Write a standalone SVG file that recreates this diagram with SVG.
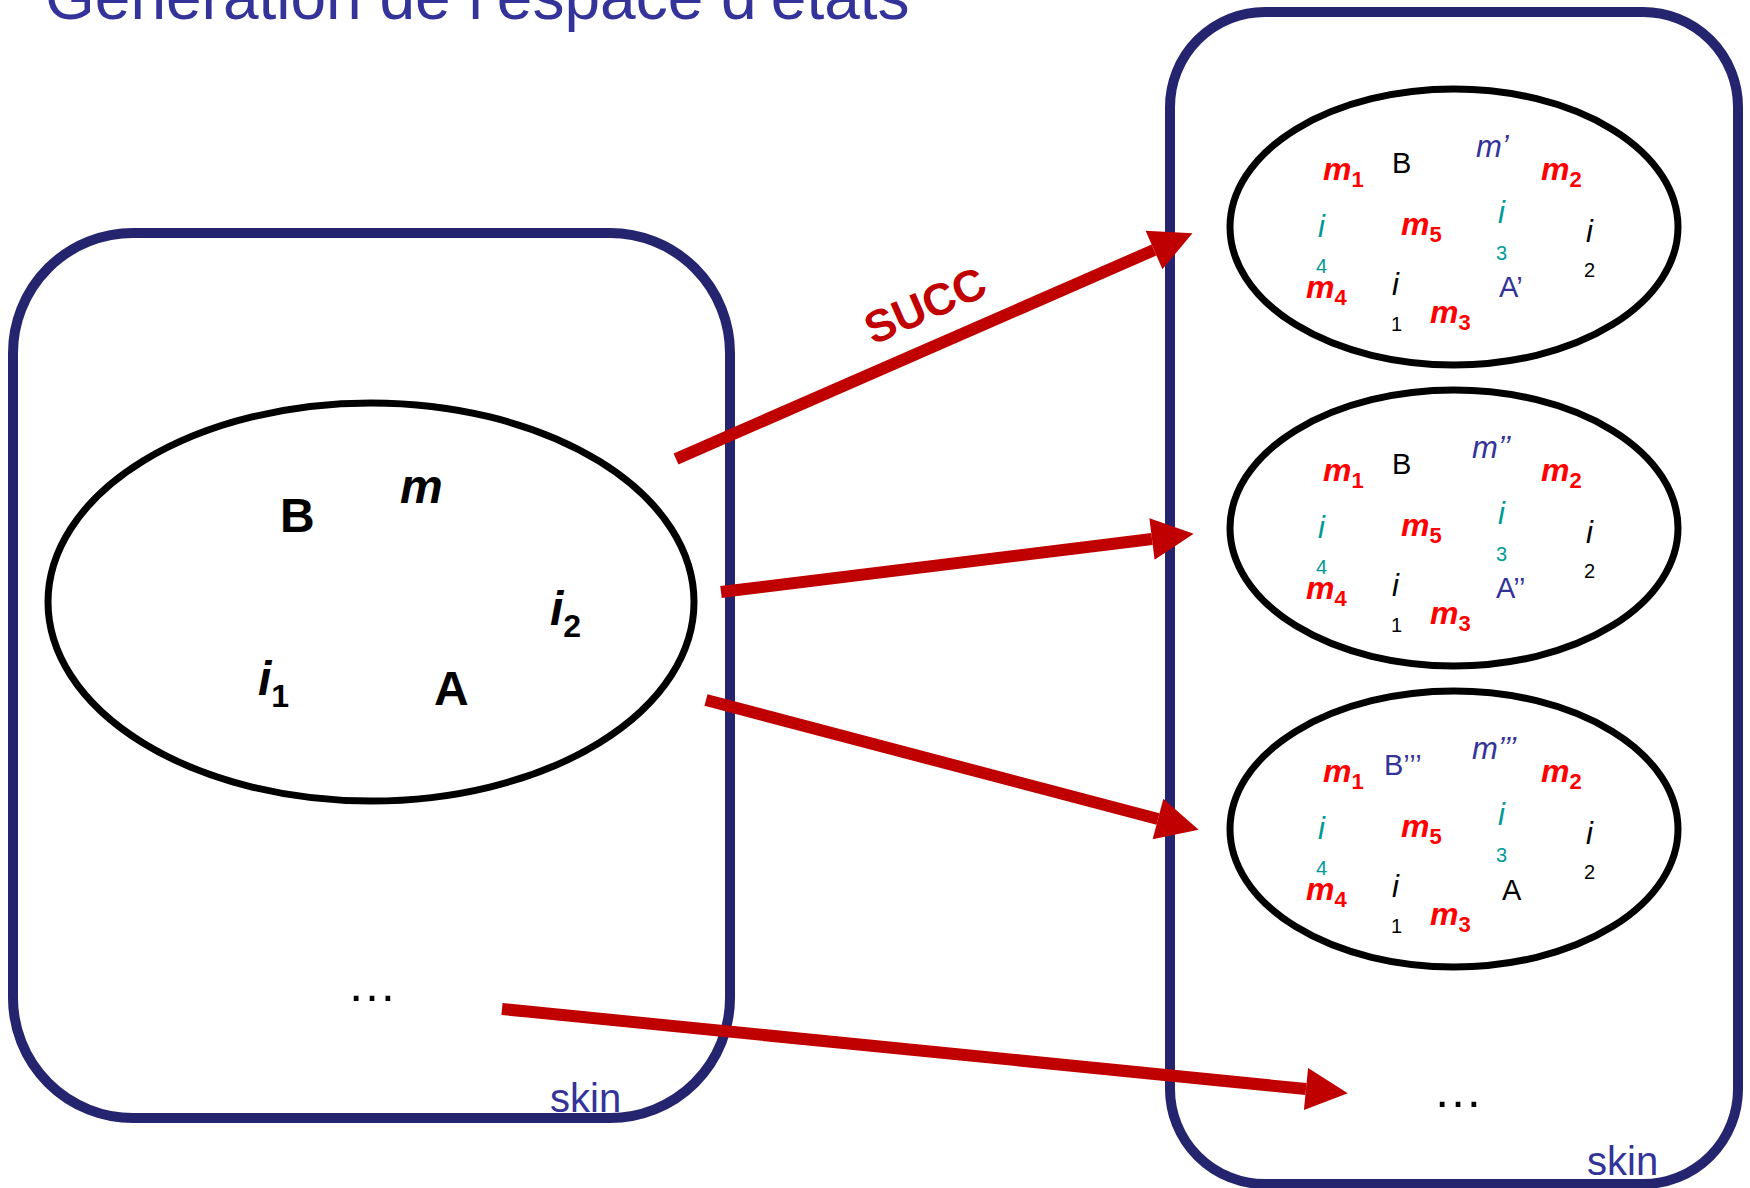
<svg xmlns="http://www.w3.org/2000/svg" width="1750" height="1188" viewBox="0 0 1750 1188">
  <defs>
    <style>
      text { font-family: "Liberation Sans", Arial, sans-serif; }
      .skin-box { fill: none; stroke: #25256F; stroke-width: 10; }
      .state { fill: #fff; stroke: #000; stroke-width: 7; }
      .succ { fill: none; stroke: #C00000; stroke-width: 12; marker-end: url(#head); }
      .title { font-size: 64px; fill: #333399; }
      .skin { font-size: 40px; fill: #333399; }
      .big { font-size: 48px; font-weight: bold; fill: #000; }
      .bigi { font-size: 48px; font-weight: bold; font-style: italic; fill: #000; }
      .mr { font-size: 32px; font-weight: bold; font-style: italic; fill: #FF0000; }
      .sub { font-size: 22px; font-style: normal; }
      .lbl { font-size: 29px; }
      .it { font-size: 31px; font-style: italic; }
      .idx { font-size: 20px; }
      .blue { fill: #333399; }
      .teal { fill: #009999; }
      .black { fill: #000; }
      .dots { font-size: 50px; fill: #000; }
    </style>
    <marker id="head" viewBox="0 0 10 10" refX="0" refY="5" markerUnits="strokeWidth" markerWidth="3.85" markerHeight="3.5" orient="auto">
      <path d="M0,0 L10,5 L0,10 Z" fill="#C00000"/>
    </marker>
  </defs>

  <rect width="1750" height="1188" fill="#fff"/>

  <text class="title" x="45" y="19">Génération de l’espace d’états</text>

  <!-- left container: the current state -->
  <g id="skin-left">
    <rect class="skin-box" x="13" y="233" width="717" height="885" rx="120" ry="120"/>
    <text class="skin" x="550" y="1112">skin</text>
  </g>

  <g id="state-current">
    <ellipse class="state" cx="371" cy="602" rx="323" ry="199"/>
    <text class="big" x="280" y="532">B</text>
    <text class="bigi" x="400" y="503">m</text>
    <text class="bigi" x="550" y="625">i<tspan font-size="32" font-style="normal" dy="12">2</tspan></text>
    <text class="bigi" x="258" y="695">i<tspan font-size="32" font-style="normal" dy="12">1</tspan></text>
    <text class="big" x="434" y="705">A</text>
  </g>

  <g id="more-left">
    <text class="dots" x="347" y="1001">…</text>
  </g>

  <!-- right container: successor states -->
  <g id="skin-right">
    <rect class="skin-box" x="1170" y="12" width="568" height="1172" rx="95" ry="95"/>
    <text class="skin" x="1587" y="1175">skin</text>
  </g>

  <g id="state-succ-1">
    <ellipse class="state" cx="1454" cy="227" rx="224" ry="138"/>
    <text class="mr" x="1323" y="180">m<tspan class="sub" dy="7">1</tspan></text>
    <text class="lbl black" x="1392" y="173">B</text>
    <text class="it blue" x="1476" y="157">m’</text>
    <text class="mr" x="1541" y="180">m<tspan class="sub" dy="7">2</tspan></text>
    <text class="it teal" x="1318" y="237">i</text>
    <text class="idx teal" x="1316" y="273">4</text>
    <text class="mr" x="1401" y="235">m<tspan class="sub" dy="7">5</tspan></text>
    <text class="it teal" x="1498" y="223">i</text>
    <text class="idx teal" x="1496" y="260">3</text>
    <text class="it black" x="1586" y="242">i</text>
    <text class="idx black" x="1584" y="277">2</text>
    <text class="mr" x="1306" y="298">m<tspan class="sub" dy="7">4</tspan></text>
    <text class="it black" x="1392" y="295">i</text>
    <text class="idx black" x="1391" y="331">1</text>
    <text class="lbl blue" x="1499" y="297">A’</text>
    <text class="mr" x="1430" y="323">m<tspan class="sub" dy="7">3</tspan></text>
  </g>

  <g id="state-succ-2" transform="translate(0,301)">
    <ellipse class="state" cx="1454" cy="227" rx="224" ry="138"/>
    <text class="mr" x="1323" y="180">m<tspan class="sub" dy="7">1</tspan></text>
    <text class="lbl black" x="1392" y="173">B</text>
    <text class="it blue" x="1472" y="157">m’’</text>
    <text class="mr" x="1541" y="180">m<tspan class="sub" dy="7">2</tspan></text>
    <text class="it teal" x="1318" y="237">i</text>
    <text class="idx teal" x="1316" y="273">4</text>
    <text class="mr" x="1401" y="235">m<tspan class="sub" dy="7">5</tspan></text>
    <text class="it teal" x="1498" y="223">i</text>
    <text class="idx teal" x="1496" y="260">3</text>
    <text class="it black" x="1586" y="242">i</text>
    <text class="idx black" x="1584" y="277">2</text>
    <text class="mr" x="1306" y="298">m<tspan class="sub" dy="7">4</tspan></text>
    <text class="it black" x="1392" y="295">i</text>
    <text class="idx black" x="1391" y="331">1</text>
    <text class="lbl blue" x="1496" y="297">A’’</text>
    <text class="mr" x="1430" y="323">m<tspan class="sub" dy="7">3</tspan></text>
  </g>

  <g id="state-succ-3" transform="translate(0,602)">
    <ellipse class="state" cx="1454" cy="227" rx="224" ry="138"/>
    <text class="mr" x="1323" y="180">m<tspan class="sub" dy="7">1</tspan></text>
    <text class="lbl blue" x="1384" y="173">B’’’</text>
    <text class="it blue" x="1472" y="157">m’’’</text>
    <text class="mr" x="1541" y="180">m<tspan class="sub" dy="7">2</tspan></text>
    <text class="it teal" x="1318" y="237">i</text>
    <text class="idx teal" x="1316" y="273">4</text>
    <text class="mr" x="1401" y="235">m<tspan class="sub" dy="7">5</tspan></text>
    <text class="it teal" x="1498" y="223">i</text>
    <text class="idx teal" x="1496" y="260">3</text>
    <text class="it black" x="1586" y="242">i</text>
    <text class="idx black" x="1584" y="277">2</text>
    <text class="mr" x="1306" y="298">m<tspan class="sub" dy="7">4</tspan></text>
    <text class="it black" x="1392" y="295">i</text>
    <text class="idx black" x="1391" y="331">1</text>
    <text class="lbl black" x="1502" y="298">A</text>
    <text class="mr" x="1430" y="323">m<tspan class="sub" dy="7">3</tspan></text>
  </g>

  <g id="more-right">
    <text class="dots" x="1433" y="1107">…</text>
  </g>

  <!-- successor arrows -->
  <g id="connectors">
    <line class="succ" x1="676" y1="459" x2="1154" y2="250"/>
    <line class="succ" x1="721" y1="592" x2="1152" y2="539"/>
    <line class="succ" x1="706" y1="700" x2="1158" y2="819"/>
    <line class="succ" x1="502" y1="1009" x2="1306" y2="1089"/>
    <text transform="translate(925,305) rotate(-23.6)" x="0" y="16" text-anchor="middle" font-size="45" font-weight="bold" fill="#C00000">SUCC</text>
  </g>
</svg>
